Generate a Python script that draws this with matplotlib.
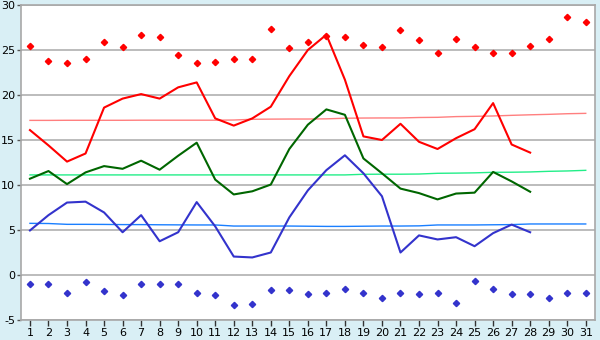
import matplotlib
matplotlib.use("Agg")
import matplotlib.pyplot as plt

days = list(range(1, 32))
days28 = list(range(1, 29))

max_temp = [16.1, 14.4, 12.6, 13.5, 18.6, 19.6, 20.1, 19.6, 20.85, 21.4,
            17.4, 16.6, 17.4, 18.7, 22.1, 25.0, 26.7, 21.7, 15.4, 15.0,
            16.8, 14.8, 14.0, 15.2, 16.2, 19.1, 14.5, 13.6]
mean_temp = [10.7, 11.55, 10.1, 11.4, 12.1, 11.8, 12.7, 11.7, 13.25, 14.7,
             10.6, 8.95, 9.3, 10.05, 14.0, 16.7, 18.4, 17.8, 12.95, 11.3,
             9.6, 9.1, 8.4, 9.05, 9.15, 11.45, 10.4, 9.25]
min_temp = [4.95, 6.65, 8.05, 8.15, 6.95, 4.75, 6.65, 3.75, 4.75, 8.1,
            5.4, 2.05, 1.95, 2.5, 6.4, 9.4, 11.65, 13.3, 11.3, 8.75,
            2.5, 4.4, 3.95, 4.2, 3.2, 4.65, 5.6, 4.75]

abs_max = [25.5, 23.8, 23.6, 24.0, 25.85, 25.3, 26.7, 26.4, 24.5, 23.6,
           23.7, 24.0, 24.0, 27.3, 25.2, 25.85, 26.6, 26.4, 25.6, 25.3,
           27.2, 26.1, 24.7, 26.2, 25.3, 24.7, 24.7, 25.4, 26.2, 28.7, 28.1]
abs_min = [-1.05, -1.05, -2.05, -0.8, -1.8, -2.25, -1.05, -0.95, -0.95, -1.95,
           -2.25, -3.35, -3.25, -1.7, -1.7, -2.15, -2.05, -1.5, -2.05, -2.5,
           -1.95, -2.15, -2.05, -3.15, -0.7, -1.6, -2.15, -2.15, -2.5, -1.95, -2.05]

norm_max = [17.18, 17.18, 17.19, 17.19, 17.19, 17.19, 17.2, 17.2, 17.2, 17.2,
            17.2, 17.22, 17.3, 17.32, 17.33, 17.33, 17.35, 17.42, 17.44, 17.45,
            17.45, 17.5, 17.52, 17.6, 17.63, 17.67, 17.74, 17.8, 17.85, 17.92, 17.96]
norm_mean = [11.12, 11.12, 11.12, 11.12, 11.12, 11.12, 11.12, 11.12, 11.12, 11.12,
             11.12, 11.12, 11.12, 11.12, 11.12, 11.12, 11.12, 11.12, 11.19, 11.2,
             11.2, 11.22, 11.3, 11.32, 11.35, 11.41, 11.42, 11.45, 11.52, 11.56, 11.63]
norm_min = [5.74, 5.72, 5.63, 5.63, 5.62, 5.6, 5.6, 5.58, 5.57, 5.56,
            5.56, 5.44, 5.44, 5.44, 5.44, 5.42, 5.4, 5.4, 5.42, 5.44,
            5.44, 5.46, 5.56, 5.56, 5.56, 5.58, 5.6, 5.67, 5.67, 5.67, 5.67]

yticks = [-5, 0, 5, 10, 15, 20, 25, 30]

bg = "#d9eff5"
fig = plt.figure(figsize=(6, 3.4), dpi=100, facecolor=bg)
ax = fig.add_axes([20.7 / 600, 20 / 340, (595 - 20.7) / 600, 315 / 340])
ax.set_facecolor("white")

for y in yticks:
    ax.axhline(y, color="#b0b0b0", lw=1.2, zorder=1)

ax.plot(days, norm_max, color="#ff7f7f", lw=1.0, zorder=2)
ax.plot(days, norm_mean, color="#22ee88", lw=1.0, zorder=2)
ax.plot(days, norm_min, color="#1a7fff", lw=1.0, zorder=2)

ax.plot(days28, max_temp, color="#ff0000", lw=1.5, zorder=3)
ax.plot(days28, mean_temp, color="#006600", lw=1.5, zorder=3)
ax.plot(days28, min_temp, color="#3333cc", lw=1.5, zorder=3)

ax.plot(days, abs_max, linestyle="none", marker="D", ms=3.2, color="#ff0000", zorder=4)
ax.plot(days, abs_min, linestyle="none", marker="D", ms=3.2, color="#3333cc", zorder=4)

ax.set_xlim(0.5, 31.5)
ax.set_ylim(-5, 30)
ax.set_xticks(days)
ax.set_xticklabels([str(d) for d in days])
ax.set_yticks(yticks)
ax.set_yticklabels([str(y) for y in yticks])
ax.tick_params(axis="x", direction="out", length=4, width=1, color="#333333",
               labelsize=8, pad=2)
ax.tick_params(axis="y", direction="out", length=3, width=1, color="#555555",
               labelsize=8, pad=1)
for s in ax.spines.values():
    s.set_color("#a8a8a8")
    s.set_linewidth(1.2)

fig.savefig("out.png", dpi=100, facecolor=bg)
